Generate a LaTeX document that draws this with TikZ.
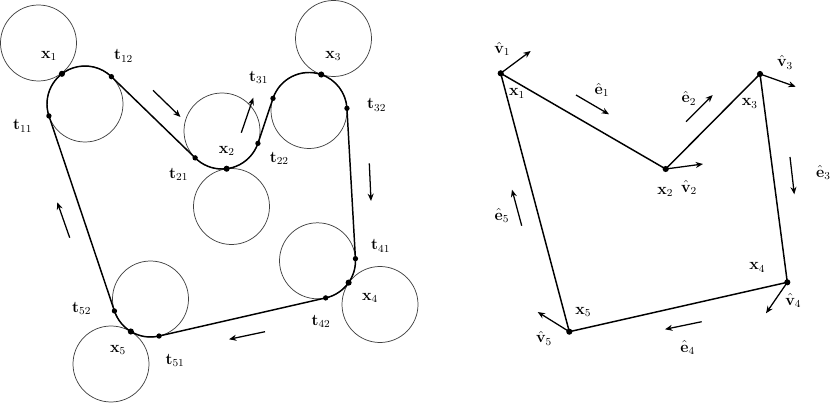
\documentclass[tikz,border=0pt]{standalone}
\usetikzlibrary{calc,arrows.meta}
\tikzset{
  ring/.style={circle,draw=black!75,line width=.55pt,minimum size=57pt,inner sep=0pt},
  dot/.style={circle,fill=black,inner sep=0pt,minimum size=4pt},
  bigdot/.style={circle,fill=black,inner sep=0pt,minimum size=4.6pt},
  band/.style={line width=1.1pt,black},
  flow/.style={line width=.95pt,-{Stealth[length=5.5pt,width=4.5pt]}},
  lab/.style={inner sep=0pt,font=\fontsize{11.6}{13}\selectfont}
}
\begin{document}
\begin{tikzpicture}[x=.75pt,y=.75pt]
\useasboundingbox (0,0) rectangle (831,403);
% circles
\node[ring] (A) at (38.5,403-43) {};
\node[ring] (c1) at (85,403-104) {};
\node[ring] (B) at (222,403-131) {};
\node[ring] (c2) at (231.5,403-206.5) {};
\node[ring] (C) at (333.5,403-38.5) {};
\node[ring] (c3) at (309,403-110.5) {};
\node[ring] (c4) at (317.5,403-260.8) {};
\node[ring] (D) at (380,403-304.5) {};
\node[ring] (c5) at (150.5,403-299) {};
\node[ring] (E) at (111,403-364) {};
% tangent points
\node[dot] (t11) at ($(c1)+(198.3:28.5pt)$) {};
\node[bigdot] (p1) at ($(c1)+(127.4:28.5pt)$) {};
\node[dot] (t12) at ($(c1)+(46:28.5pt)$) {};
\node[dot] (t21) at ($(B)+(225:28.5pt)$) {};
\node[bigdot] (p2) at ($(B)+(277:28.5pt)$) {};
\node[dot] (t22) at ($(B)+(341:28.5pt)$) {};
\node[dot] (t31) at ($(c3)+(161.4:28.5pt)$) {};
\node[bigdot] (p3) at ($(c3)+(71.2:28.5pt)$) {};
\node[dot] (t32) at ($(c3)+(3.3:28.5pt)$) {};
\node[dot] (t41) at ($(c4)+(3.2:28.5pt)$) {};
\node[bigdot] (p4) at ($(c4)+(-35:28.5pt)$) {};
\node[dot] (t42) at ($(c4)+(-77.6:28.5pt)$) {};
\node[dot] (t52) at ($(c5)+(198.3:28.5pt)$) {};
\node[bigdot] (p5) at ($(c5)+(238.8:28.5pt)$) {};
\node[dot] (t51) at ($(c5)+(283:28.5pt)$) {};
% band
\draw[band] (t11.center) arc[start angle=198.3,end angle=46,radius=28.5pt];
\draw[band] (t12.center) -- (t21.center);
\draw[band] (t21.center) arc[start angle=225,end angle=341,radius=28.5pt];
\draw[band] (t22.center) -- (t31.center);
\draw[band] (t31.center) arc[start angle=161.4,end angle=3.3,radius=28.5pt];
\draw[band] (t32.center) -- (t41.center);
\draw[band] (t41.center) arc[start angle=3.2,end angle=-77.6,radius=28.5pt];
\draw[band] (t42.center) -- (t51.center);
\draw[band] (t51.center) arc[start angle=283,end angle=198.3,radius=28.5pt];
\draw[band] (t52.center) -- (t11.center);
% direction arrows, left
\coordinate (a1s) at (153,403-90.3); \coordinate (a1e) at (180.5,403-117);
\coordinate (a2s) at (241.3,403-132.7); \coordinate (a2e) at (253.3,403-97.7);
\coordinate (a3s) at (369.3,403-163.3); \coordinate (a3e) at (371,403-201);
\coordinate (a4s) at (265,403-331.7); \coordinate (a4e) at (229,403-339.3);
\coordinate (a5s) at (69.7,403-237.7); \coordinate (a5e) at (57.3,403-202.3);
\foreach \n in {1,...,5} \draw[flow] (a\n s) -- (a\n e);
% labels, left
\node[lab] (lx1) at (49,403-55.7) {$\mathbf{x}_1$};
\node[lab] (lt12) at (123.5,403-56) {$\mathbf{t}_{12}$};
\node[lab] (lt11) at (22.7,403-126) {$\mathbf{t}_{11}$};
\node[lab] (lt21) at (178.7,403-174.5) {$\mathbf{t}_{21}$};
\node[lab] (lx2) at (226.7,403-150.7) {$\mathbf{x}_2$};
\node[lab] (lt31) at (258.7,403-77.3) {$\mathbf{t}_{31}$};
\node[lab] (lt22) at (279.3,403-158.3) {$\mathbf{t}_{22}$};
\node[lab] (lx3) at (333.3,403-56) {$\mathbf{x}_3$};
\node[lab] (lt32) at (376.7,403-105) {$\mathbf{t}_{32}$};
\node[lab] (lt41) at (380.7,403-246) {$\mathbf{t}_{41}$};
\node[lab] (lx4) at (370,403-297.7) {$\mathbf{x}_4$};
\node[lab] (lt42) at (321,403-321.7) {$\mathbf{t}_{42}$};
\node[lab] (lt52) at (81.7,403-308.3) {$\mathbf{t}_{52}$};
\node[lab] (lx5) at (118,403-350) {$\mathbf{x}_5$};
\node[lab] (lt51) at (175,403-360.7) {$\mathbf{t}_{51}$};
% polygon, right
\node[bigdot] (X1) at (500.7,403-73.3) {};
\node[bigdot] (X2) at (665.7,403-169) {};
\node[bigdot] (X3) at (760,403-74) {};
\node[bigdot] (X4) at (787.3,403-282.3) {};
\node[bigdot] (X5) at (569.3,403-331.7) {};
\draw[band] (X1.center) -- (X2.center) -- (X3.center) -- (X4.center) -- (X5.center) -- cycle;
\coordinate (v1) at (530.7,403-51);
\coordinate (v2) at (703,403-164);
\coordinate (v3) at (795.7,403-86.7);
\coordinate (v4) at (766,403-313.3);
\coordinate (v5) at (537.7,403-312);
\foreach \n in {1,...,5} \draw[flow] (X\n.center) -- (v\n);
\coordinate (e1s) at (576,403-95); \coordinate (e1e) at (609,403-114.3);
\coordinate (e2s) at (686,403-121.7); \coordinate (e2e) at (712.7,403-95);
\coordinate (e3s) at (790,403-157); \coordinate (e3e) at (794.3,403-194.3);
\coordinate (e4s) at (701.7,403-321.7); \coordinate (e4e) at (665,403-329.3);
\coordinate (e5s) at (521.7,403-225.7); \coordinate (e5e) at (512,403-189.7);
\foreach \n in {1,...,5} \draw[flow] (e\n s) -- (e\n e);
% labels, right
\node[lab] (lv1) at (502.3,403-49) {$\hat{\mathbf{v}}_1$};
\node[lab] (le1) at (602,403-90) {$\hat{\mathbf{e}}_1$};
\node[lab] (lX1) at (517,403-93.3) {$\mathbf{x}_1$};
\node[lab] (le2) at (689,403-98.3) {$\hat{\mathbf{e}}_2$};
\node[lab] (lv3) at (785,403-62.3) {$\hat{\mathbf{v}}_3$};
\node[lab] (lX3) at (749.7,403-103.3) {$\mathbf{x}_3$};
\node[lab] (lX2) at (665.3,403-191.7) {$\mathbf{x}_2$};
\node[lab] (lv2) at (689,403-187.7) {$\hat{\mathbf{v}}_2$};
\node[lab] (le3) at (823.3,403-172.7) {$\hat{\mathbf{e}}_3$};
\node[lab] (le5) at (502,403-215.7) {$\hat{\mathbf{e}}_5$};
\node[lab] (lX5) at (583.3,403-311.7) {$\mathbf{x}_5$};
\node[lab] (lv5) at (544,403-338.3) {$\hat{\mathbf{v}}_5$};
\node[lab] (lX4) at (757.3,403-267.3) {$\mathbf{x}_4$};
\node[lab] (lv4) at (793.3,403-300.7) {$\hat{\mathbf{v}}_4$};
\node[lab] (le4) at (687.7,403-347.7) {$\hat{\mathbf{e}}_4$};
\end{tikzpicture}
\end{document}
